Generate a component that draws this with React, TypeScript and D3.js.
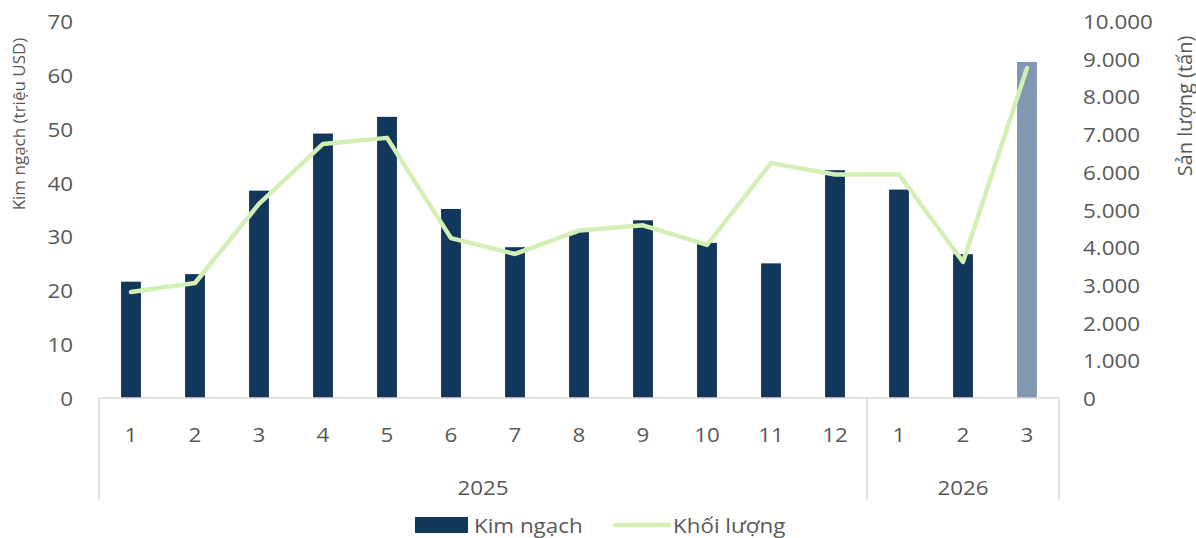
import React from "react";
import * as d3 from "d3";

const months = ["1", "2", "3", "4", "5", "6", "7", "8", "9", "10", "11", "12", "1", "2", "3"];
const yearGroups = [
  { label: "2025", count: 12 },
  { label: "2026", count: 3 },
];
const kimNgach = [21.6, 23.0, 38.5, 49.1, 52.2, 35.1, 28.0, 30.8, 33.0, 28.8, 25.0, 42.3, 38.7, 26.7, 62.4];
const khoiLuong = [2810, 3050, 5150, 6740, 6900, 4240, 3820, 4440, 4580, 4060, 6230, 5930, 5930, 3610, 8750];
const leftTicks = [0, 10, 20, 30, 40, 50, 60, 70];
const rightTicks = [0, 1000, 2000, 3000, 4000, 5000, 6000, 7000, 8000, 9000, 10000];

const W = 1196;
const H = 538;
const M = { left: 99, right: 1059, top: 21, bottom: 398 };
const FONT = "'Open Sans', sans-serif";
const TXT = "#595959";
const BAR = "#12375A";
const BAR_LAST = "#8197B2";
const LINE = "#D3EFB5";
const GRID = "#D9D9D9";
const SX = 1.12;

function T({
  x,
  y,
  anchor = "start",
  size = 20,
  rotate = 0,
  children,
}: {
  x: number;
  y: number;
  anchor?: "start" | "middle" | "end";
  size?: number;
  rotate?: number;
  children: React.ReactNode;
}) {
  return (
    <text
      transform={`translate(${x},${y}) rotate(${rotate}) scale(${SX},1)`}
      textAnchor={anchor}
      dominantBaseline="central"
      fontSize={size}
      fill={TXT}
    >
      {children}
    </text>
  );
}

export default function App() {
  const idx = months.map((_, i) => String(i));
  const x = d3.scaleBand<string>().domain(idx).range([M.left, M.right]).paddingInner(0.69).paddingOuter(0.345);
  const yL = d3.scaleLinear().domain([0, 70]).range([M.bottom, M.top]);
  const yR = d3.scaleLinear().domain([0, 10000]).range([M.bottom, M.top]);
  const step = (M.right - M.left) / months.length;
  const cx = (i: number) => M.left + step * (i + 0.5);

  const line = d3
    .line<number>()
    .x((_, i) => cx(i))
    .y((d) => yR(d));

  const fmt = (v: number) => d3.format(",")(v).replace(/,/g, ".");

  let acc = 0;
  const groups = yearGroups.map((g) => {
    const start = acc;
    acc += g.count;
    return { ...g, x0: M.left + step * start, x1: M.left + step * acc };
  });

  return (
    <svg width={W} height={H} style={{ position: "absolute", left: 0, top: 0, background: "#fff" }} fontFamily={FONT}>
      {/* bars */}
      {kimNgach.map((v, i) => (
        <rect
          key={i}
          x={x(String(i))}
          y={yL(v)}
          width={x.bandwidth()}
          height={yL(0) - yL(v)}
          fill={i === kimNgach.length - 1 ? BAR_LAST : BAR}
        />
      ))}
      {/* line */}
      <path d={line(khoiLuong) || ""} fill="none" stroke={LINE} strokeWidth={4.5} strokeLinejoin="round" strokeLinecap="round" />

      {/* category axis */}
      <line x1={M.left} x2={M.right} y1={M.bottom} y2={M.bottom} stroke={GRID} strokeWidth={1.5} />
      {[groups[0].x0, ...groups.map((g) => g.x1)].map((gx, i) => (
        <line key={i} x1={gx} x2={gx} y1={M.bottom} y2={500} stroke={GRID} strokeWidth={1.5} />
      ))}
      {months.map((m, i) => (
        <T key={i} x={cx(i)} y={434} anchor="middle">
          {m}
        </T>
      ))}
      {groups.map((g, i) => (
        <T key={i} x={(g.x0 + g.x1) / 2} y={487} anchor="middle">
          {g.label}
        </T>
      ))}

      {/* left axis */}
      {leftTicks.map((t) => (
        <T key={t} x={73} y={yL(t)} anchor="end">
          {t}
        </T>
      ))}
      <text
        transform={`translate(18,124) rotate(-90)`}
        textAnchor="middle"
        dominantBaseline="central"
        fontSize={17}
        fill={TXT}
      >
        Kim ngạch (triệu USD)
      </text>

      {/* right axis */}
      {rightTicks.map((t) => (
        <T key={t} x={1083} y={yR(t)} anchor="start">
          {fmt(t)}
        </T>
      ))}
      <text
        transform={`translate(1184,106) rotate(-90)`}
        textAnchor="middle"
        dominantBaseline="central"
        fontSize={20}
        fill={TXT}
      >
        Sản lượng (tấn)
      </text>

      {/* legend */}
      <rect x={415} y={517} width={53} height={16} fill={BAR} />
      <T x={474} y={525}>
        Kim ngạch
      </T>
      <line x1={615} x2={669} y1={525} y2={525} stroke={LINE} strokeWidth={4.5} strokeLinecap="round" />
      <T x={673} y={525}>
        Khối lượng
      </T>
    </svg>
  );
}
